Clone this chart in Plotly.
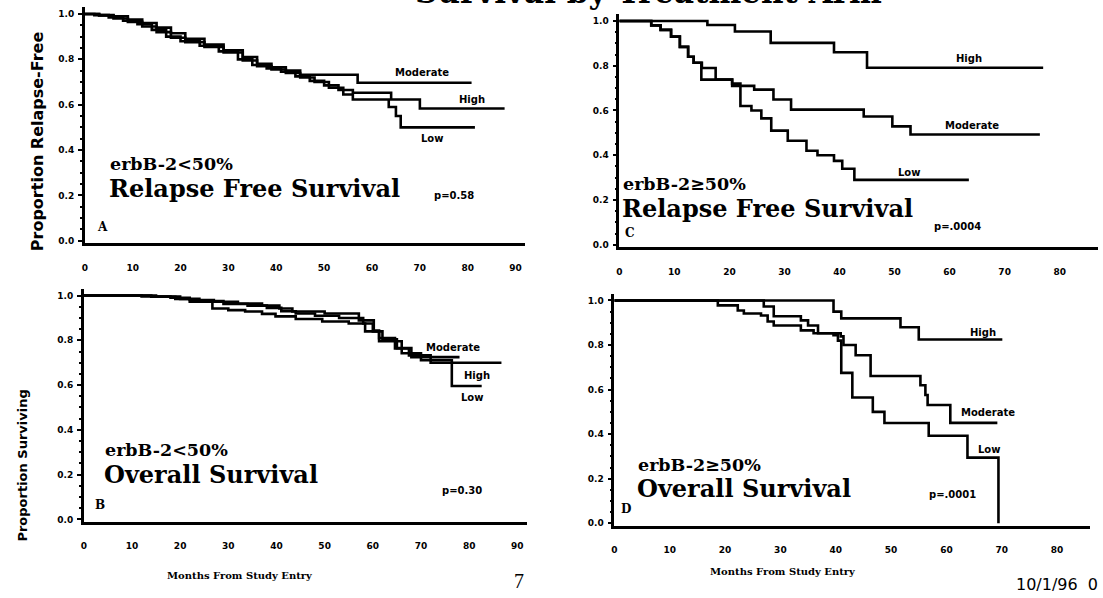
import plotly.graph_objects as go

W, H = 1103, 598

# ---------------- data (months, proportion) ----------------
# Panel A: erbB-2 < 50%, relapse-free survival
a_mod_t = [0, 3, 6, 9, 12, 15, 18, 21, 25, 29, 33, 36, 39, 42, 45, 57, 80.8]
a_mod_v = [1.0, 0.995, 0.99, 0.975, 0.96, 0.94, 0.915, 0.89, 0.865, 0.84, 0.81, 0.78, 0.765, 0.75, 0.732, 0.697, 0.697]
a_high_t = [0, 2, 5, 8, 11, 14, 17, 20, 24, 28, 32, 35, 38, 41, 44, 47, 50, 53, 56, 64, 70, 87.7]
a_high_v = [1.0, 0.995, 0.985, 0.97, 0.955, 0.93, 0.9, 0.88, 0.86, 0.835, 0.8, 0.775, 0.76, 0.745, 0.725, 0.705, 0.685, 0.665, 0.653, 0.623, 0.583, 0.583]
a_low_t = [0, 3, 6, 9, 12, 15, 18, 21, 25, 29, 33, 36, 39, 42, 45, 48, 51, 54, 56, 63.5, 65, 66, 81.5]
a_low_v = [1.0, 0.993, 0.98, 0.965, 0.945, 0.92, 0.895, 0.875, 0.855, 0.83, 0.795, 0.77, 0.755, 0.74, 0.72, 0.7, 0.675, 0.645, 0.623, 0.59, 0.55, 0.5, 0.5]

# Panel C: erbB-2 >= 50%, relapse-free survival
c_high_t = [0, 16, 21, 27.5, 39, 45, 77]
c_high_v = [1.0, 0.982, 0.953, 0.902, 0.86, 0.791, 0.791]
c_mod_t = [0, 5.8, 7.5, 9.4, 11, 12.5, 13.5, 14.9, 20.5, 24.5, 28, 31.2, 44.4, 49.6, 52.9, 76.4]
c_mod_v = [1.0, 0.98, 0.96, 0.93, 0.884, 0.84, 0.813, 0.738, 0.71, 0.693, 0.649, 0.604, 0.573, 0.529, 0.493, 0.493]
c_low_t = [0, 5.8, 7.5, 9.4, 11, 12.5, 13.5, 15, 17.5, 20.5, 22, 24, 25.8, 27.6, 30.6, 34, 36, 39, 40.5, 42.7, 63.5]
c_low_v = [1.0, 0.98, 0.96, 0.93, 0.884, 0.84, 0.813, 0.79, 0.738, 0.72, 0.62, 0.6, 0.565, 0.51, 0.465, 0.42, 0.4, 0.375, 0.34, 0.29, 0.29]

# Panel B: erbB-2 < 50%, overall survival
b_mod_t = [0, 12, 18, 22, 27, 32, 37, 40.6, 43.3, 50, 57.1, 60.2, 61.3, 64.6, 67.5, 72, 86.7]
b_mod_v = [1.0, 0.996, 0.99, 0.98, 0.972, 0.964, 0.955, 0.942, 0.929, 0.92, 0.889, 0.844, 0.81, 0.764, 0.733, 0.7, 0.7]
b_high_t = [0, 15, 20, 24, 29, 34, 38, 41, 44, 48, 53, 58, 60, 62, 65, 68, 78]
b_high_v = [1.0, 0.996, 0.985, 0.975, 0.962, 0.955, 0.945, 0.93, 0.92, 0.91, 0.9, 0.875, 0.84, 0.805, 0.765, 0.725, 0.725]
b_low_t = [0, 14, 19, 22, 26.7, 30, 33.5, 37, 39.8, 44, 49.5, 55, 58.4, 61.3, 66, 70, 76.4, 82.6]
b_low_v = [1.0, 0.995, 0.985, 0.973, 0.942, 0.935, 0.929, 0.918, 0.907, 0.895, 0.884, 0.875, 0.84, 0.796, 0.742, 0.711, 0.596, 0.596]

# Panel D: erbB-2 >= 50%, overall survival
d_high_t = [0, 39.6, 41, 51.7, 55, 70.1]
d_high_v = [1.0, 0.95, 0.92, 0.88, 0.825, 0.825]
d_mod_t = [0, 27, 28.8, 33.7, 35, 36.8, 40.9, 41.4, 43.6, 46.3, 55.3, 56.2, 56.6, 60.7, 69.2]
d_mod_v = [1.0, 0.973, 0.929, 0.911, 0.888, 0.853, 0.839, 0.8, 0.754, 0.661, 0.62, 0.576, 0.531, 0.451, 0.451]
d_low_t = [0, 18.7, 22.3, 23.4, 26.5, 27.7, 28.8, 33.7, 36, 39.6, 40.4, 41, 43, 46.7, 48.8, 56.8, 63.8, 69.4]
d_low_v = [1.0, 0.978, 0.955, 0.942, 0.933, 0.906, 0.888, 0.866, 0.853, 0.844, 0.82, 0.675, 0.565, 0.5, 0.45, 0.393, 0.295, 0.0]

x_ticks_ab = [0, 10, 20, 30, 40, 50, 60, 70, 80, 90]
x_ticks_cd = [0, 10, 20, 30, 40, 50, 60, 70, 80]
y_ticks = [0.0, 0.2, 0.4, 0.6, 0.8, 1.0]
y_tick_text = ["0.0", "0.2", "0.4", "0.6", "0.8", "1.0"]

arm_labels = ["High", "Moderate", "Low"]
p_values = ["p=0.58", "p=.0004", "p=0.30", "p=.0001"]

# ---------------- figure ----------------
fig = go.Figure()

def curve(t, v, n):
    fig.add_trace(go.Scatter(
        x=t, y=v, mode="lines",
        line=dict(shape="hv", color="black", width=2.6),
        xaxis="x" if n == 1 else f"x{n}", yaxis="y" if n == 1 else f"y{n}",
        showlegend=False, hoverinfo="skip"))

for t, v in [(a_mod_t, a_mod_v), (a_high_t, a_high_v), (a_low_t, a_low_v)]:
    curve(t, v, 1)
for t, v in [(c_high_t, c_high_v), (c_mod_t, c_mod_v), (c_low_t, c_low_v)]:
    curve(t, v, 2)
for t, v in [(b_mod_t, b_mod_v), (b_high_t, b_high_v), (b_low_t, b_low_v)]:
    curve(t, v, 3)
for t, v in [(d_high_t, d_high_v), (d_mod_t, d_mod_v), (d_low_t, d_low_v)]:
    curve(t, v, 4)

tickfont = dict(family="DejaVu Sans", size=9, color="black", weight="bold")

def xdom(px0, px1):
    return [px0 / W, px1 / W]

def ydom(ptop, pbot):
    return [1 - pbot / H, 1 - ptop / H]

def xaxis(dom, rng, ticks, anchor):
    return dict(domain=dom, range=rng, anchor=anchor, tickvals=ticks,
                ticktext=[str(t) for t in ticks], showline=True, linecolor="black",
                linewidth=3, showgrid=False, zeroline=False, ticks="",
                ticklabelstandoff=14, tickfont=tickfont)

def yaxis(dom, anchor):
    return dict(domain=dom, range=[-0.01, 1.03], anchor=anchor, tickvals=y_ticks,
                ticktext=y_tick_text, showline=True, linecolor="black", linewidth=2.5,
                showgrid=False, zeroline=False, ticks="outside", ticklen=4,
                tickwidth=2, tickcolor="black", ticklabelstandoff=2,
                minor=dict(ticks="outside", ticklen=2, tickwidth=1.5, dtick=0.05,
                           tickcolor="black", showgrid=False),
                tickfont=tickfont)

fig.update_layout(
    width=W, height=H, margin=dict(l=0, r=0, t=0, b=0),
    paper_bgcolor="white", plot_bgcolor="white",
    xaxis=xaxis(xdom(82, 523.6), [0, 92], x_ticks_ab, "y"),
    yaxis=yaxis(ydom(7.2, 244.3), "x"),
    xaxis2=xaxis(xdom(618, 1098.2), [0, 87], x_ticks_cd, "y2"),
    yaxis2=yaxis(ydom(14.3, 248.3), "x2"),
    xaxis3=xaxis(xdom(81, 525.4), [0, 92], x_ticks_ab, "y3"),
    yaxis3=yaxis(ydom(290.3, 524.3), "x3"),
    xaxis4=xaxis(xdom(613, 1090.3), [0, 86], x_ticks_cd, "y4"),
    yaxis4=yaxis(ydom(295.3, 528.2), "x4"),
)

def ann(text, px, py, size, family="DejaVu Serif", weight="bold", xanchor="left",
        yanchor="middle", angle=0):
    fig.add_annotation(text=text, x=px / W, y=1 - py / H, xref="paper", yref="paper",
                       xanchor=xanchor, yanchor=yanchor, showarrow=False,
                       textangle=angle, borderpad=0,
                       font=dict(family=family, size=size, color="black", weight=weight))

l1, l2 = 17.5, 24
# panel headings
ann("erbB-2&lt;50%", 106, 165, l1)
ann("Relapse Free Survival", 105, 189, l2)
ann("erbB-2≥50%", 621, 185, l1)
ann("Relapse Free Survival", 620, 210, l2)
ann("erbB-2&lt;50%", 101, 452, l1)
ann("Overall Survival", 100, 477, l2)
ann("erbB-2≥50%", 636, 467, l1)
ann("Overall Survival", 635, 491, l2)

# panel letters
ann("A", 93, 228, 12)
ann("C", 623, 234, 12)
ann("B", 91, 508, 12)
ann("D", 619, 512, 12)

# arm labels and p-values
sm = dict(size=10, family="DejaVu Sans", xanchor="center")
for txt, px, py in [(arm_labels[1], 420, 73), (arm_labels[0], 470, 100), (arm_labels[2], 430, 139),
                    (arm_labels[0], 969, 59), (arm_labels[1], 972, 126), (arm_labels[2], 908, 173),
                    (arm_labels[1], 451, 349), (arm_labels[0], 475, 377), (arm_labels[2], 470, 400),
                    (arm_labels[0], 983, 334), (arm_labels[1], 988, 415), (arm_labels[2], 989, 452)]:
    ann(txt, px, py, **sm)
ann(p_values[0], 452, 196, **sm)
ann(p_values[1], 957, 228, **sm)
ann(p_values[2], 460, 493, **sm)
ann(p_values[3], 952, 497, **sm)

# axis titles
ann("Proportion Relapse-Free", 34, 142, 16, family="DejaVu Sans", xanchor="center", angle=-90)
ann("Proportion Surviving", 20, 468, 13, family="DejaVu Sans", xanchor="center", angle=-90)
ann("Months From Study Entry", 238, 578, 10, xanchor="center")
ann("Months From Study Entry", 782, 574, 10, xanchor="center")

# page furniture (title is cut off by the top edge in the scanned original)
ann("Survival by Treatment Arm", 647, -8, 31, xanchor="center")
ann("7", 517, 584, 20, family="Liberation Serif", weight="normal", xanchor="center")
ann("10/1/96  0", 1015, 587, 16, family="DejaVu Sans", weight="normal")

fig.write_html("out.html", config={"displayModeBar": False},
               post_script="document.body.style.margin='0px';")
